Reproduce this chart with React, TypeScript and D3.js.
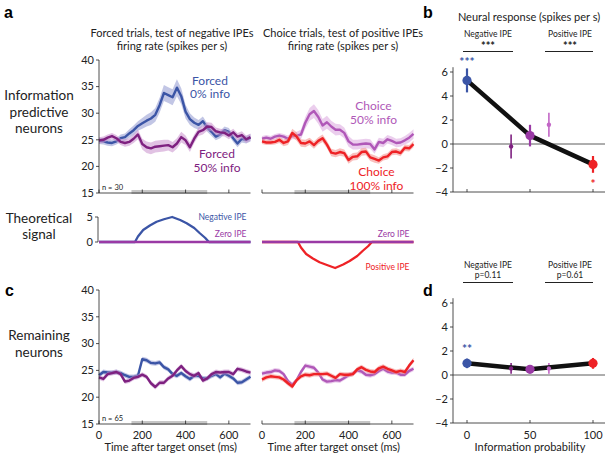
import * as d3 from 'd3'

const FONT = "Lato, 'Open Sans', sans-serif"

const BLUE = '#3b55a6'
const DPURPLE = '#7e2180'
const LPURPLE = '#b058b8'
const MPURPLE = '#9a3aa5'
const RED = '#ee2226'

// time bins, ms after target onset
const times = [0, 20, 40, 60, 80, 100, 120, 140, 160, 180, 200, 220, 240, 260, 280, 300, 320, 340,
  360, 380, 400, 420, 440, 460, 480, 500, 520, 540, 560, 580, 600, 620, 640, 660, 680, 700]

// information predictive neurons (n = 30)
const forced0Top = [24.8, 24.7, 24.5, 24.4, 24.7, 25.3, 25.5, 26.2, 26.8, 27.6, 28.1, 28.6, 29.0, 29.7, 31.5, 33.8, 33.4, 33.0,
  34.8, 33.2, 30.3, 28.9, 28.2, 27.8, 28.5, 27.3, 26.5, 25.6, 26.0, 26.8, 26.5, 25.3, 24.3, 25.2, 25.0, 25.4]
const forced0TopSem = [0.6, 0.6, 0.6, 0.6, 0.6, 0.7, 0.7, 0.8, 0.9, 0.9, 1.0, 1.1, 1.2, 1.3, 1.4, 1.5, 1.5, 1.5,
  1.6, 1.5, 1.3, 1.1, 1.0, 0.9, 0.9, 0.8, 0.8, 0.7, 0.7, 0.7, 0.7, 0.7, 0.7, 0.7, 0.7, 0.7]
const forced50Top = [24.9, 25.0, 25.4, 25.7, 25.3, 24.6, 24.4, 24.6, 25.2, 26.0, 24.2, 23.6, 23.4, 23.7, 23.8, 23.9, 24.0, 23.6,
  24.3, 25.5, 24.9, 23.6, 25.2, 26.5, 26.8, 27.5, 27.4, 26.6, 26.4, 26.3, 25.8, 26.4, 25.6, 25.9, 25.1, 25.5]
const forced50TopSem = [0.6, 0.6, 0.6, 0.6, 0.6, 0.6, 0.7, 0.7, 0.8, 0.9, 1.0, 1.1, 1.1, 1.1, 1.1, 1.1, 1.0, 1.0,
  1.0, 1.0, 0.9, 0.9, 0.8, 0.8, 0.8, 0.8, 0.8, 0.7, 0.7, 0.7, 0.7, 0.7, 0.7, 0.7, 0.7, 0.7]
const choice50Top = [25.2, 25.4, 25.2, 25.6, 25.8, 25.6, 25.2, 25.7, 25.8, 26.0, 28.2, 29.8, 30.4, 29.3, 27.7, 28.3, 27.5, 26.9,
  26.9, 26.3, 24.7, 24.1, 24.1, 24.2, 24.3, 24.2, 23.2, 24.6, 24.4, 25.1, 24.8, 24.4, 24.5, 24.9, 25.4, 26.1]
const choice50TopSem = [0.5, 0.5, 0.5, 0.5, 0.5, 0.5, 0.6, 0.6, 0.7, 0.9, 1.1, 1.2, 1.3, 1.3, 1.2, 1.2, 1.1, 1.1,
  1.0, 1.0, 1.0, 0.9, 0.9, 0.9, 0.9, 0.9, 0.8, 0.8, 0.8, 0.8, 0.8, 0.8, 0.8, 0.8, 0.9, 0.9]
const choice100Top = [24.7, 24.5, 24.5, 24.6, 25.0, 24.4, 24.7, 26.3, 25.6, 24.4, 24.3, 24.7, 24.0, 24.8, 25.3, 24.1, 22.6, 22.4,
  22.7, 22.5, 21.2, 21.8, 21.9, 22.7, 22.8, 21.7, 21.4, 21.1, 21.7, 21.9, 22.7, 22.8, 22.5, 23.5, 23.4, 24.2]
const choice100TopSem = [0.5, 0.5, 0.5, 0.5, 0.6, 0.6, 0.7, 0.8, 0.8, 0.7, 0.7, 0.7, 0.7, 0.7, 0.7, 0.7, 0.7, 0.7,
  0.7, 0.7, 0.7, 0.7, 0.7, 0.7, 0.7, 0.7, 0.7, 0.6, 0.6, 0.6, 0.6, 0.6, 0.6, 0.6, 0.6, 0.6]

// remaining neurons (n = 65)
const forced0Bottom = [24.1, 24.7, 24.6, 24.6, 24.7, 24.5, 24.1, 23.8, 23.8, 24.0, 27.1, 26.9, 26.4, 26.3, 26.5, 25.6, 25.2, 24.3,
  24.0, 24.5, 23.9, 23.4, 24.0, 24.0, 23.5, 23.5, 24.0, 24.3, 23.7, 24.4, 24.0, 23.5, 22.7, 22.8, 23.3, 23.8]
const forced50Bottom = [23.7, 23.4, 24.3, 24.5, 24.7, 24.3, 22.9, 23.1, 23.6, 23.8, 24.2, 23.8, 22.6, 21.9, 22.7, 22.7, 23.5, 24.0,
  25.0, 25.8, 24.9, 24.3, 24.0, 24.5, 23.1, 23.5, 24.3, 24.7, 24.6, 24.7, 24.7, 24.3, 25.3, 25.1, 24.8, 24.6]
const choice50Bottom = [24.4, 24.6, 24.7, 25.0, 24.9, 24.3, 23.0, 22.3, 23.2, 24.7, 25.9, 25.7, 25.5, 24.6, 23.3, 22.9, 23.0, 23.2,
  23.1, 23.6, 24.1, 24.4, 25.0, 24.8, 24.2, 24.1, 24.3, 24.9, 25.3, 24.8, 24.6, 24.6, 24.2, 24.2, 24.9, 25.3]
const choice100Bottom = [23.3, 23.7, 23.9, 23.8, 23.7, 23.3, 22.6, 22.0, 23.2, 23.9, 24.2, 24.1, 24.3, 24.3, 24.3, 24.4, 24.0, 23.6,
  24.3, 24.2, 24.2, 24.3, 25.2, 25.6, 25.1, 24.8, 24.7, 25.4, 25.7, 25.3, 25.0, 24.7, 24.9, 24.7, 25.9, 26.9]
const bottomSem = 0.45

// theoretical signal
const theoryTimes = [0, 166, 180, 204, 235, 266, 300, 338, 375, 405, 440, 466, 490, 508, 700]
const negativeIPE = [0, 0, 1.1, 2.4, 3.3, 4.05, 4.55, 5.0, 4.4, 3.75, 2.8, 1.75, 0.85, 0, 0]
const positiveIPE = [0, 0, -1.1, -2.4, -3.3, -4.05, -4.6, -5.2, -4.5, -3.8, -2.8, -1.75, -0.85, 0, 0]

// neural response summary (spikes per s)
const infoProb = [0, 35, 50, 65, 100]
const respPredictive = [5.3, -0.2, 0.7, 1.6, -1.7]
const errPredictive = [1.0, 1.0, 0.9, 1.0, 0.7]
const respRemaining = [0.97, 0.55, 0.47, 0.55, 0.97]
const errRemaining = [0.4, 0.45, 0.3, 0.45, 0.45]
const pointColors = [BLUE, DPURPLE, MPURPLE, '#c266c6', RED]
const pointBig = [true, false, true, false, true]

const tracesTicks = [15, 20, 25, 30, 35, 40]
const timeTicks = [0, 200, 400, 600]
const respTicks = [-4, -2, 0, 2, 4, 6]

const minus = (v: number) => (v < 0 ? '\u2212' + Math.abs(v) : String(v))

type Trace = { values: number[]; sem: number[] | number; color: string; band: string }

function TracePanel({ left, top, bottom, traces, yAxis, xLabels, nLabel }:
  { left: number; top: number; bottom: number; traces: Trace[]; yAxis: boolean; xLabels: boolean; nLabel?: string }) {
  const x = d3.scaleLinear().domain([0, 700]).range([left, left + 151.5])
  const y = d3.scaleLinear().domain([15, 40]).range([bottom, top])
  return (
    <g>
      <rect x={x(150)} y={bottom - 3} width={x(500) - x(150)} height={4} fill="#c6c6c6" />
      {traces.map((t, k) => {
        const s = (i: number) => (typeof t.sem === 'number' ? t.sem : t.sem[i])
        const area = d3.area<number>()
          .x((_, i) => x(times[i]))
          .y0((d, i) => y(d - s(i)))
          .y1((d, i) => y(d + s(i)))
        const line = d3.line<number>().x((_, i) => x(times[i])).y(d => y(d))
        return (
          <g key={k}>
            <path d={area(t.values) || ''} fill={t.band} fillOpacity={0.55} />
            <path d={line(t.values) || ''} fill="none" stroke={t.color} strokeWidth={2.4} strokeLinejoin="round" />
          </g>
        )
      })}
      <line x1={x(0)} x2={x(700)} y1={bottom} y2={bottom} stroke="#222" strokeWidth={0.8} />
      {timeTicks.map(t => (
        <g key={t}>
          <line x1={x(t)} x2={x(t)} y1={bottom} y2={bottom - 3.5} stroke="#222" strokeWidth={0.8} />
          {xLabels && (
            <text x={x(t)} y={bottom + 14.5} fontSize={11} textAnchor="middle" fill="#222">{t}</text>
          )}
        </g>
      ))}
      {xLabels && (
        <text x={x(350) - 4} y={bottom + 27} fontSize={11} textAnchor="middle" fill="#222">Time after target onset (ms)</text>
      )}
      {yAxis && (
        <g>
          <line x1={x(0)} x2={x(0)} y1={y(15)} y2={y(40)} stroke="#222" strokeWidth={0.8} />
          {tracesTicks.map(v => (
            <g key={v}>
              <line x1={x(0) - 3} x2={x(0)} y1={y(v)} y2={y(v)} stroke="#222" strokeWidth={0.8} />
              <text x={x(0) - 5} y={y(v) + 3.8} fontSize={11} textAnchor="end" fill="#222">{v}</text>
            </g>
          ))}
        </g>
      )}
      {nLabel && <text x={x(0) + 3} y={bottom - 3} fontSize={7.5} fill="#222">{nLabel}</text>}
    </g>
  )
}

function TheoryPanel({ left, values, color, labels }:
  { left: number; values: number[]; color: string; labels: { text: string; y: number; color: string }[] }) {
  const x = d3.scaleLinear().domain([0, 700]).range([left, left + 151.5])
  const y = d3.scaleLinear().domain([0, 5]).range([242, 217])
  const line = d3.line<number>().x((_, i) => x(theoryTimes[i])).y(d => y(d))
  return (
    <g>
      <path d={line(values) || ''} fill="none" stroke={color} strokeWidth={2.3} strokeLinejoin="round" />
      <line x1={x(0)} x2={x(700)} y1={y(0)} y2={y(0)} stroke={MPURPLE} strokeWidth={2.6} />
      {labels.map(l => (
        <text key={l.text} x={x(700) - 4} y={l.y} fontSize={8.5} textAnchor="end" fill={l.color}>{l.text}</text>
      ))}
    </g>
  )
}

function ResponsePanel({ top, values, errs, headers, stars, xLabels }:
  { top: number; values: number[]; errs: number[]; headers: string[]; stars: { i: number; v: number; text: string; color: string }[]; xLabels: boolean }) {
  const x = d3.scaleLinear().domain([0, 100]).range([467, 593])
  const y = d3.scaleLinear().domain([-4, 6]).range([top + 120, top])
  const axisX = 453
  const line = d3.line<number>().x(i => x(infoProb[i])).y(i => y(values[i]))
  const hdr = [
    { cx: 488, x1: 463, x2: 513, label: 'Negative IPE', sub: headers[0] },
    { cx: 570, x1: 545, x2: 593, label: 'Positive IPE', sub: headers[1] },
  ]
  const subIsStars = headers[0].startsWith('*')
  return (
    <g>
      {hdr.map(h => (
        <g key={h.label}>
          <text x={h.cx} y={top - 35} fontSize={8.5} textAnchor="middle" fill="#222">{h.label}</text>
          <text x={h.cx} y={subIsStars ? top - 22 : top - 25.5} fontSize={subIsStars ? 11 : 8.5} fontWeight={subIsStars ? 'bold' : 'normal'}
            textAnchor="middle" fill="#222">{h.sub}</text>
          <line x1={h.x1} x2={h.x2} y1={top - 20.5} y2={top - 20.5} stroke="#222" strokeWidth={1.2} />
        </g>
      ))}
      <line x1={axisX} x2={axisX} y1={y(-4)} y2={y(6.4)} stroke="#222" strokeWidth={0.8} />
      {respTicks.map(v => (
        <g key={v}>
          <line x1={axisX - 3} x2={axisX} y1={y(v)} y2={y(v)} stroke="#222" strokeWidth={0.8} />
          <text x={axisX - 5} y={y(v) + 3.8} fontSize={11} textAnchor="end" fill="#222">{minus(v)}</text>
        </g>
      ))}
      <line x1={axisX} x2={605} y1={y(-4)} y2={y(-4)} stroke="#222" strokeWidth={0.8} />
      <line x1={axisX} x2={605} y1={y(0)} y2={y(0)} stroke="#333" strokeWidth={0.8} />
      {[0, 50, 100].map(p => (
        <g key={p}>
          <line x1={x(p)} x2={x(p)} y1={y(-4)} y2={y(-4) - 3} stroke="#222" strokeWidth={0.8} />
          {xLabels && <text x={x(p)} y={y(-4) + 15.5} fontSize={11} textAnchor="middle" fill="#222">{p}</text>}
        </g>
      ))}
      {xLabels && (
        <text x={530} y={y(-4) + 28} fontSize={11} textAnchor="middle" fill="#222">Information probability</text>
      )}
      {infoProb.map((p, i) => (
        <line key={'e' + i} x1={x(p)} x2={x(p)} y1={y(values[i] - errs[i])} y2={y(values[i] + errs[i])}
          stroke={pointColors[i]} strokeWidth={pointBig[i] ? 2.2 : 1.6} />
      ))}
      <path d={line([0, 2, 4]) || ''} fill="none" stroke="#111" strokeWidth={4.5} strokeLinejoin="round" />
      {infoProb.map((p, i) => (
        <circle key={'c' + i} cx={x(p)} cy={y(values[i])} r={pointBig[i] ? 4.6 : 2.2} fill={pointColors[i]} />
      ))}
      {stars.map(s => (
        <text key={s.text + s.i} x={x(infoProb[s.i])} y={y(s.v) + 5} fontSize={12} fontWeight="bold"
          textAnchor="middle" fill={s.color}>{s.text}</text>
      ))}
    </g>
  )
}

function TwoLine({ x, y, lines, color }: { x: number; y: number; lines: string[]; color: string }) {
  // y is the baseline of the first line
  return (
    <g>
      {lines.map((l, i) => (
        <text key={l} x={x} y={y + i * 13.5} fontSize={12} textAnchor="middle" fill={color}>{l}</text>
      ))}
    </g>
  )
}

export default function App() {
  const rowLabel = (lines: string[], ys: number[]) =>
    lines.map((l, i) => (
      <text key={l} x={39} y={ys[i]} fontSize={13.5} textAnchor="middle" fill="#222">{l}</text>
    ))
  return (
    <svg width={611} height={460} style={{ position: 'absolute', left: 0, top: 0, background: '#fff' }}
      fontFamily={FONT}>
      {/* panel letters */}
      <text x={4} y={18} fontSize={16} fontWeight="bold" fontFamily="Arial, 'Liberation Sans', sans-serif">a</text>
      <text x={423} y={18} fontSize={16} fontWeight="bold" fontFamily="Arial, 'Liberation Sans', sans-serif">b</text>
      <text x={5} y={296} fontSize={16} fontWeight="bold" fontFamily="Arial, 'Liberation Sans', sans-serif">c</text>
      <text x={423} y={296} fontSize={16} fontWeight="bold" fontFamily="Arial, 'Liberation Sans', sans-serif">d</text>

      {/* column headers */}
      <text x={172} y={36.5} fontSize={11} textAnchor="middle" fill="#222">Forced trials, test of negative IPEs</text>
      <text x={172} y={50} fontSize={11} textAnchor="middle" fill="#222">firing rate (spikes per s)</text>
      <text x={343} y={36.5} fontSize={11} textAnchor="middle" fill="#222">Choice trials, test of positive IPEs</text>
      <text x={343} y={50} fontSize={11} textAnchor="middle" fill="#222">firing rate (spikes per s)</text>
      <text x={529} y={21} fontSize={11} textAnchor="middle" fill="#222">Neural response (spikes per s)</text>

      {rowLabel(['Information', 'predictive', 'neurons'], [100, 116.5, 133])}
      {rowLabel(['Theoretical', 'signal'], [222.5, 238.5])}
      {rowLabel(['Remaining', 'neurons'], [340, 356.5])}

      <TracePanel left={99} top={60} bottom={193} yAxis xLabels={false} nLabel="n = 30"
        traces={[
          { values: forced0Top, sem: forced0TopSem, color: BLUE, band: '#8f97cf' },
          { values: forced50Top, sem: forced50TopSem, color: DPURPLE, band: '#c98fcc' },
        ]} />
      <TracePanel left={262} top={60} bottom={193} yAxis={false} xLabels={false}
        traces={[
          { values: choice50Top, sem: choice50TopSem, color: LPURPLE, band: '#dba6df' },
          { values: choice100Top, sem: choice100TopSem, color: RED, band: '#f38c88' },
        ]} />
      <TwoLine x={210} y={84.5} lines={['Forced', '0% info']} color={BLUE} />
      <TwoLine x={217} y={158} lines={['Forced', '50% info']} color={DPURPLE} />
      <TwoLine x={373.5} y={110} lines={['Choice', '50% info']} color={LPURPLE} />
      <TwoLine x={376.5} y={176} lines={['Choice', '100% info']} color={RED} />

      {/* theoretical signal */}
      <line x1={98} x2={98} y1={217} y2={242} stroke="#222" strokeWidth={0.8} />
      <line x1={95} x2={98} y1={217} y2={217} stroke="#222" strokeWidth={0.8} />
      <line x1={95} x2={98} y1={242} y2={242} stroke="#222" strokeWidth={0.8} />
      <text x={93} y={220.8} fontSize={11} textAnchor="end" fill="#222">5</text>
      <text x={93} y={245.8} fontSize={11} textAnchor="end" fill="#222">0</text>
      <TheoryPanel left={99} values={negativeIPE} color={BLUE}
        labels={[{ text: 'Negative IPE', y: 219.5, color: BLUE }, { text: 'Zero IPE', y: 237, color: MPURPLE }]} />
      <TheoryPanel left={262} values={positiveIPE} color={RED}
        labels={[{ text: 'Zero IPE', y: 237, color: MPURPLE }, { text: 'Positive IPE', y: 269.5, color: RED }]} />

      <TracePanel left={99} top={290} bottom={424} yAxis xLabels nLabel="n = 65"
        traces={[
          { values: forced0Bottom, sem: bottomSem, color: BLUE, band: '#8f97cf' },
          { values: forced50Bottom, sem: bottomSem, color: DPURPLE, band: '#c98fcc' },
        ]} />
      <TracePanel left={262} top={290} bottom={424} yAxis={false} xLabels
        traces={[
          { values: choice50Bottom, sem: bottomSem, color: LPURPLE, band: '#dba6df' },
          { values: choice100Bottom, sem: bottomSem, color: RED, band: '#f38c88' },
        ]} />

      <ResponsePanel top={72} values={respPredictive} errs={errPredictive} headers={['***', '***']} xLabels={false}
        stars={[{ i: 0, v: 6.9, text: '***', color: BLUE }, { i: 4, v: -3.25, text: '*', color: RED }]} />
      <ResponsePanel top={303} values={respRemaining} errs={errRemaining} headers={['p=0.11', 'p=0.61']} xLabels
        stars={[{ i: 0, v: 2.25, text: '**', color: BLUE }]} />
    </svg>
  )
}
